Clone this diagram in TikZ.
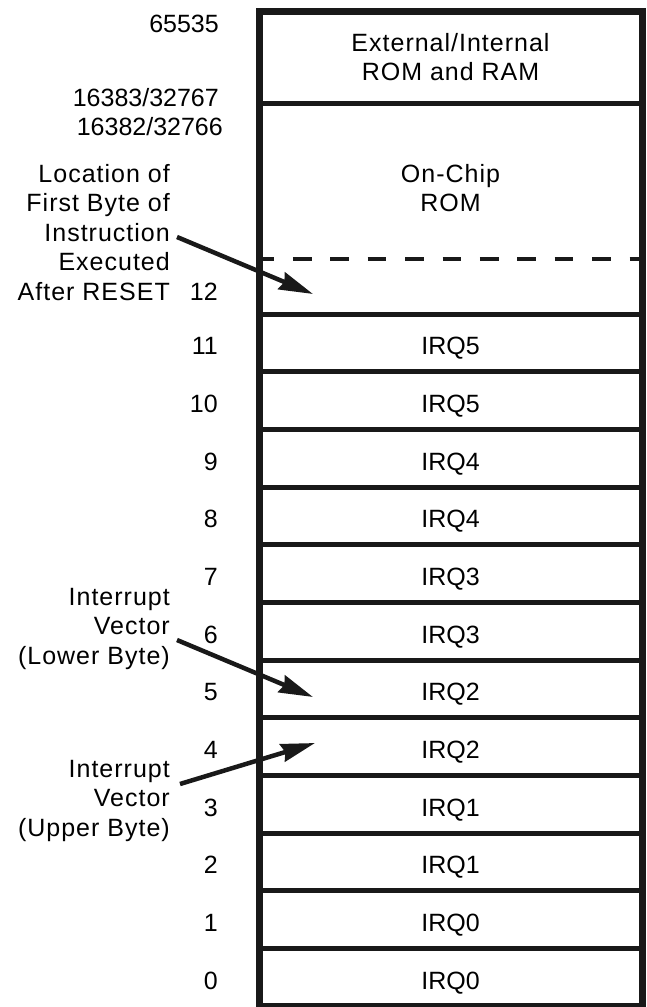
\documentclass[tikz,border=0pt]{standalone}
\usepackage{fontspec}
\setmainfont{Liberation Sans}
\newfontfamily\wordfont[LetterSpace=4]{Liberation Sans}
\usepackage{tikz}
\usetikzlibrary{arrows.meta, positioning}
\tikzset{
  cell/.style={
    rectangle,
    draw=black!90,
    line width = 5pt,
    minimum width=383pt,
    minimum height=57.67pt,
    inner sep=0pt,
    outer sep=0pt,
    align = center,
    font=\fontsize{25}{29.5}\selectfont,
  },
  addr/.style={
    anchor=base east,
    inner sep=0pt,
    font=\fontsize{25}{29.5}\selectfont,
  },
  note/.style={
    anchor=base east,
    inner sep=0pt,
    align=right,
    font=\wordfont\fontsize{25}{29.5}\selectfont,
  },
  arrow/.style={
    line width = 4.5pt,
    -{Stealth[length=34pt, width=18pt, inset=3pt]},
    draw=black!90,
    },
}

\begin{document}
\begin{tikzpicture}[x=1pt, y=-1pt]
    \useasboundingbox (0,0) rectangle (646,1007);
    % memory blocks
    \node (ext) [cell, minimum height=92pt, font=\wordfont\fontsize{25}{29.5}\selectfont] at (450.5,57) {External/Internal\\ROM and RAM};
    \node (rom) [cell, minimum height=211pt] at (450.5,208.5) {};
    \node (romtext) [align=center, inner sep=0pt, font=\wordfont\fontsize{25}{29.5}\selectfont] at (450.5,188) {On-Chip\\ROM};
    \coordinate (dashL) at (259,259);
    \coordinate (dashR) at (642,259);
    \draw [line width=4.5pt, draw=black!90, dash pattern=on 18.7pt off 18.7pt, dash phase=3.5pt] (dashL) -- (dashR);
    \foreach \i in {0,...,11} {
      \pgfmathtruncatemacro{\irq}{int(\i/2)}
      \node (r\i) [cell, text height=24pt, text depth=0pt] at (450.5,{314+57.67*(11.5-\i)}) {IRQ\irq};
      \node (n\i) [addr] at (218,{314+57.67*(11.5-\i)+12}) {\i};
    }
    \draw [line width=7pt, draw=black!90] (259,11) rectangle (642,1006);
    % addresses
    \node (top) [addr] at (219,32) {65535};
    \node (extlow) [addr] at (219,106) {16383/32767};
    \node (romhigh) [addr] at (223,135) {16382/32766};
    \node (n12) [addr] at (218,300) {12};
    % notes
    \node (reset) [note] at (170,300) {Location of\\First Byte of\\Instruction\\Executed\\After RESET};
    \node (lower) [note] at (170,664) {Interrupt\\Vector\\(Lower Byte)};
    \node (upper) [note] at (170,836) {Interrupt\\Vector\\(Upper Byte)};
    \coordinate (resetFrom) at (177,237);
    \coordinate (resetTo) at (313,294);
    \coordinate (lowerFrom) at (177,640);
    \coordinate (lowerTo) at (313,697);
    \coordinate (upperFrom) at (180,784);
    \coordinate (upperTo) at (315,743);
    \draw [arrow] (resetFrom) -- (resetTo);
    \draw [arrow] (lowerFrom) -- (lowerTo);
    \draw [arrow] (upperFrom) -- (upperTo);
  \end{tikzpicture}
\end{document}
